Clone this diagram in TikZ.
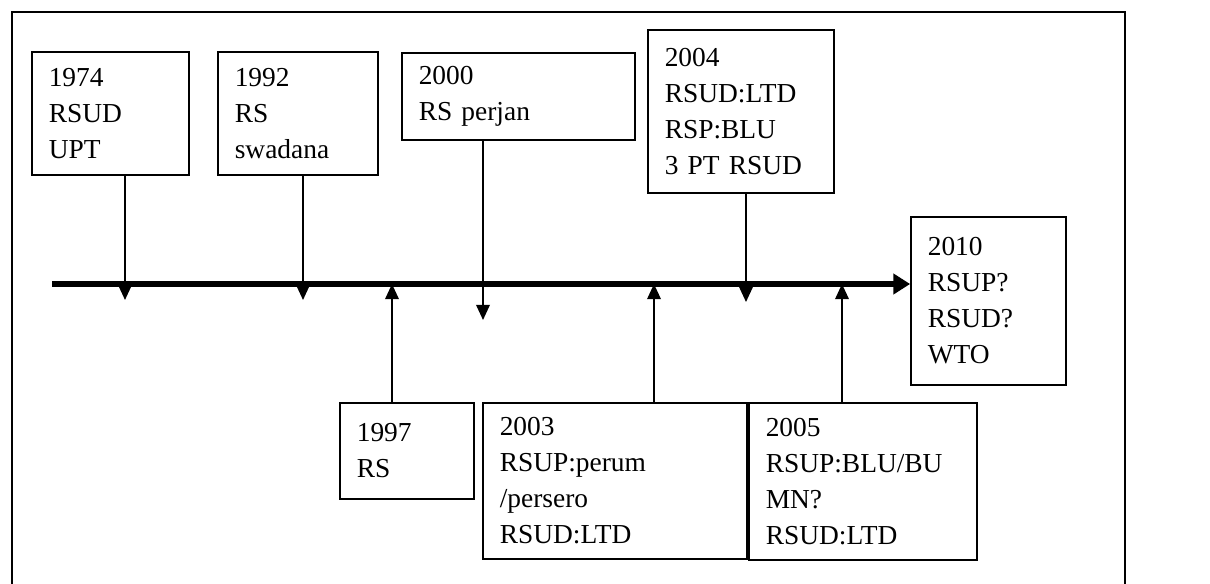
\documentclass[tikz,border=0pt]{standalone}
\usepackage{fontspec}
\setmainfont{Liberation Serif}
\usetikzlibrary{arrows.meta}

\begin{document}
\begin{tikzpicture}[
  x=0.025cm, y=-0.025cm,
  yearbox/.style={draw, line width=1.2pt, inner xsep=0.42cm, inner ysep=2pt,
    align=left, font=\fontsize{19.5}{25.6}\selectfont},
  timeline/.style={-{Triangle[width=0.5cm, length=0.42cm]}, line width=4pt},
  flow/.style={-{Triangle[width=0.34cm, length=0.38cm]}, line width=1.3pt}
]
\useasboundingbox (0,0) rectangle (1210,584);
\draw[line width=1.2pt] (12,12) rectangle (1125,640);

\node[yearbox, text width=3.085cm, minimum height=3.075cm] (y1974) at (110.5,113.5) {1974\\RSUD\\UPT};
\node[yearbox, text width=3.16cm, minimum height=3.075cm] (y1992) at (298,113.5) {1992\\RS\\swadana};
\node[yearbox, text width=4.985cm, minimum height=2.175cm] (y2000) at (518.5,96.5) {2000\\RS perjan};
\node[yearbox, text width=3.81cm, minimum height=4.075cm] (y2004) at (741,111.5) {2004\\RSUD:LTD\\RSP:BLU\\3 PT RSUD};
\node[yearbox, text width=3.035cm, minimum height=4.2cm] (y2010) at (988.5,301) {2010\\RSUP?\\RSUD?\\WTO};
\node[yearbox, text width=2.51cm, minimum height=2.4cm] (y1997) at (407,451) {1997\\RS};
\node[yearbox, text width=5.76cm, minimum height=3.9cm] (y2003) at (615,481) {2003\\RSUP:perum\\/persero\\RSUD:LTD};
\node[yearbox, text width=4.86cm, minimum height=3.925cm] (y2005) at (863,481.5) {2005\\RSUP:BLU/BU\\MN?\\RSUD:LTD};

\coordinate (start) at (52,284);
\coordinate (a1974) at (125,300);
\coordinate (a1992) at (303,300);
\coordinate (a1997) at (392,284);
\coordinate (a2000) at (483,320);
\coordinate (a2003) at (654,284);
\coordinate (a2004) at (746,302);
\coordinate (a2005) at (842,284);

\draw[timeline] (start) -- (start -| y2010.west);
\draw[flow] (a1974 |- y1974.south) -- (a1974);
\draw[flow] (a1992 |- y1992.south) -- (a1992);
\draw[flow] (a2000 |- y2000.south) -- (a2000);
\draw[flow] (a2004 |- y2004.south) -- (a2004);
\draw[flow] (a1997 |- y1997.north) -- (a1997);
\draw[flow] (a2003 |- y2003.north) -- (a2003);
\draw[flow] (a2005 |- y2005.north) -- (a2005);
\end{tikzpicture}
\end{document}
